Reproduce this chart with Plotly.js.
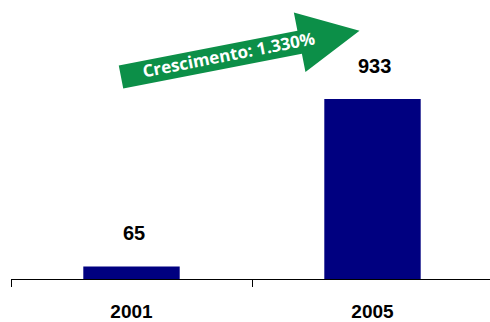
<!DOCTYPE html>
<html>
<head>
<meta charset="utf-8">
<script src="https://cdn.plot.ly/plotly-3.0.1.min.js"></script>
<style>html,body{margin:0;padding:0;background:#fff;}#chart{width:490px;height:322px;}</style>
</head>
<body>
<div id="chart"></div>
<script>
// Data
const years = ["2001", "2005"];
const values = [65, 933];
const growthLabel = "Crescimento: 1.330%";

// Layout geometry
const W = 490, H = 322;
const M = {l: 11, r: 0, t: 0, b: 43};
const plotW = W - M.l - M.r, plotH = H - M.t - M.b;
function px2paper(x, y) {
  return [(x - M.l) / plotW, (H - M.b - y) / plotH];
}

// Arrow decoration (pixel-space geometry converted to paper coords)
const ang = 11 * Math.PI / 180;
const ox = 121, oy = 77;
const shaftLen = 182, shaftHalf = 11.7, headHalf = 30.4, headLen = 61;
function local(u, v) {
  const x = ox + u * Math.cos(ang) + v * Math.sin(ang);
  const y = oy - u * Math.sin(ang) + v * Math.cos(ang);
  return px2paper(x, y);
}
const pts = [
  local(0, shaftHalf), local(shaftLen, shaftHalf), local(shaftLen, headHalf),
  local(shaftLen + headLen, 0), local(shaftLen, -headHalf), local(shaftLen, -shaftHalf),
  local(0, -shaftHalf)
];
const path = 'M' + pts.map(p => p[0].toFixed(5) + ',' + p[1].toFixed(5)).join('L') + 'Z';
const textPos = px2paper(228, 54);

const data = [{
  type: 'bar',
  x: years,
  y: values,
  marker: {color: '#000080'},
  hoverinfo: 'none'
}];

const annotations = values.map((v, i) => ({
  x: i, y: v, xref: 'x', yref: 'y',
  text: String(v),
  showarrow: false,
  xanchor: 'center',
  yanchor: 'bottom',
  xshift: 2,
  yshift: 20,
  font: {family: 'Liberation Sans, Arial, sans-serif', size: 20, color: '#000', weight: 'bold'}
}));
annotations.push({
  xref: 'paper', yref: 'paper',
  x: textPos[0], y: textPos[1],
  text: growthLabel,
  showarrow: false,
  textangle: -11,
  xanchor: 'center', yanchor: 'middle',
  font: {family: 'Open Sans, sans-serif', size: 17, color: '#fff', weight: 'bold'}
});

const layout = {
  width: W, height: H,
  margin: M,
  paper_bgcolor: '#fff', plot_bgcolor: '#fff',
  showlegend: false,
  bargap: 0.6,
  xaxis: {
    type: 'category',
    range: [-0.5, 1.5 - 3 / 241],
    showline: true, linecolor: '#000', linewidth: 1,
    ticks: 'outside', tickson: 'boundaries', ticklen: 7, tickcolor: '#000', tickwidth: 1,
    showgrid: false, zeroline: false,
    tickfont: {family: 'Liberation Sans, Arial, sans-serif', size: 19, color: '#000', weight: 'bold'},
    ticklabelstandoff: 15,
    fixedrange: true
  },
  yaxis: {
    range: [0, 933 * 279 / 180],
    visible: false, showgrid: false, zeroline: false,
    fixedrange: true
  },
  shapes: [{
    type: 'path', xref: 'paper', yref: 'paper',
    path: path,
    fillcolor: '#0c8f48', line: {width: 0},
    layer: 'above'
  }],
  annotations: annotations
};

Plotly.newPlot('chart', data, layout, {displayModeBar: false, staticPlot: true});
</script>
</body>
</html>
